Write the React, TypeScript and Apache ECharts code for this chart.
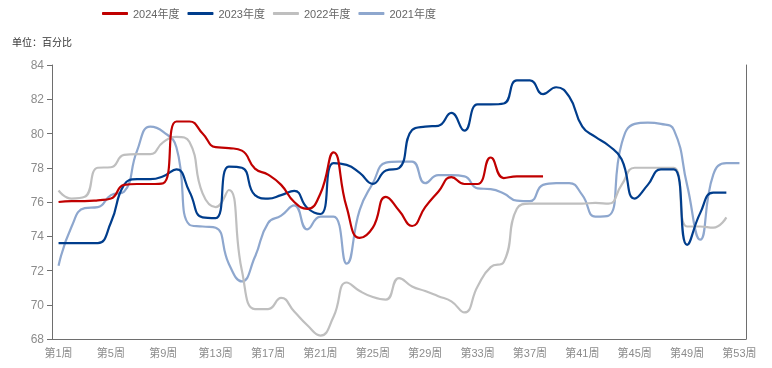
import React, { useEffect, useRef } from "react";
import * as echarts from "echarts";

const weeks: string[] = [
  "第1周", "第2周", "第3周", "第4周", "第5周", "第6周", "第7周", "第8周", "第9周", "第10周",
  "第11周", "第12周", "第13周", "第14周", "第15周", "第16周", "第17周", "第18周", "第19周", "第20周",
  "第21周", "第22周", "第23周", "第24周", "第25周", "第26周", "第27周", "第28周", "第29周", "第30周",
  "第31周", "第32周", "第33周", "第34周", "第35周", "第36周", "第37周", "第38周", "第39周", "第40周",
  "第41周", "第42周", "第43周", "第44周", "第45周", "第46周", "第47周", "第48周", "第49周", "第50周",
  "第51周", "第52周", "第53周",
];

const seriesNames = ["2024年度", "2023年度", "2022年度", "2021年度"];

const y2024: number[] = [
  76.0, 76.05, 76.05, 76.1, 76.2, 77.0, 77.05, 77.05, 77.1, 80.7,
  80.7, 80.0, 79.2, 79.15, 79.0, 77.95, 77.6, 77.0, 76.0, 75.6,
  76.5, 78.9, 75.7, 73.9, 74.5, 76.3, 75.5, 74.6, 75.7, 76.6,
  77.45, 77.05, 77.05, 78.6, 77.4, 77.5, 77.5, 77.5,
];

const y2023: number[] = [
  73.6, 73.6, 73.6, 73.6, 74.8, 77.0, 77.33, 77.33, 77.5, 77.9,
  76.6, 75.1, 75.06, 78.07, 78.0, 76.4, 76.2, 76.4, 76.65, 75.65,
  75.3, 78.27, 78.17, 77.7, 77.06, 77.84, 77.98, 80.2, 80.4, 80.45,
  81.2, 80.17, 81.7, 81.7, 81.75, 83.1, 83.1, 82.3, 82.7, 82.15,
  80.4, 79.8, 79.3, 78.5, 76.2, 77.0, 77.9, 77.9, 73.5, 75.35,
  76.55, 76.55,
];

const y2022: number[] = [
  76.67, 76.2, 76.3, 78.0, 78.03, 78.75, 78.8, 78.8, 79.5, 79.8,
  79.5, 76.5, 75.7, 76.7, 72.0, 69.75, 69.75, 70.4, 69.6, 68.8,
  68.2, 69.3, 71.3, 70.8, 70.45, 70.3, 71.56, 71.07, 70.8, 70.5,
  70.2, 69.55, 71.07, 72.2, 72.5, 75.6, 75.9, 75.9, 75.9, 75.9,
  75.9, 75.95, 75.9, 77.0, 78.0, 78.0, 78.0, 78.0, 74.57, 74.57,
  74.5, 75.1,
];

const y2021: number[] = [
  72.28, 74.57, 75.64, 75.7, 76.4, 76.6, 79.0, 80.4, 80.1, 79.2,
  74.67, 74.57, 74.5, 72.4, 71.36, 72.8, 74.77, 75.2, 75.8, 74.4,
  75.15, 75.15, 72.4, 75.54, 77.1, 78.3, 78.36, 78.36, 77.1, 77.57,
  77.57, 77.5, 76.8, 76.75, 76.5, 76.08, 76.05, 77.0, 77.1, 77.1,
  76.4, 75.15, 75.2, 79.4, 80.56, 80.64, 80.56, 80.2, 77.0, 73.8,
  77.6, 78.27, 78.27,
];

const colors = ["#C00000", "#003D8C", "#BFBFBF", "#8EA7CE"];

export default function App() {
  const ref = useRef<HTMLDivElement>(null);

  useEffect(() => {
    if (!ref.current) return;
    const chart = echarts.init(ref.current, null, { renderer: "svg" });
    const font = "Liberation Sans, Arial, Noto Sans CJK SC, sans-serif";
    const axisColor = "#6E6E6E";
    const dataSets = [y2024, y2023, y2022, y2021];
    chart.setOption({
      animation: false,
      color: colors,
      textStyle: { fontFamily: font },
      title: {
        text: "单位：百分比",
        left: 7,
        top: 32,
        textStyle: { fontSize: 10, fontWeight: "normal", color: "#333", fontFamily: font },
      },
      legend: {
        data: seriesNames,
        top: 3,
        left: 97,
        icon: "roundRect",
        itemWidth: 26,
        itemHeight: 3,
        itemGap: 8,
        textStyle: { fontSize: 11, color: "#666", fontFamily: font },
      },
      grid: { left: 52, right: 26, top: 65, bottom: 29, containLabel: false },
      xAxis: {
        type: "category",
        data: weeks,
        boundaryGap: true,
        axisLine: { lineStyle: { color: axisColor, width: 1 } },
        axisTick: { interval: 3, length: 5, lineStyle: { color: axisColor } },
        axisLabel: { interval: 3, color: "#8C8C8C", fontSize: 11, margin: 8, fontFamily: font },
        splitLine: { show: false },
      },
      yAxis: [
        {
          type: "value",
          min: 68,
          max: 84,
          interval: 2,
          axisLine: { show: true, lineStyle: { color: axisColor, width: 1 } },
          axisTick: { show: true, length: 5, lineStyle: { color: axisColor } },
          axisLabel: { color: "#8C8C8C", fontSize: 12, margin: 8, fontFamily: font },
          splitLine: { show: false },
        },
        {
          type: "value",
          position: "right",
          min: 68,
          max: 84,
          interval: 2,
          axisLine: { show: true, lineStyle: { color: axisColor, width: 1 } },
          axisTick: { show: false },
          axisLabel: { show: false },
          splitLine: { show: false },
        },
      ],
      series: seriesNames.map((name, i) => ({
        name,
        type: "line",
        data: dataSets[i],
        smooth: true,
        symbol: "none",
        showSymbol: false,
        lineStyle: { width: 2.2, color: colors[i] },
        itemStyle: { color: colors[i] },
        z: 10 - i,
      })),
    });
    return () => chart.dispose();
  }, []);

  return (
    <div
      ref={ref}
      style={{ position: "fixed", left: 0, top: 0, width: 772, height: 368 }}
    />
  );
}
